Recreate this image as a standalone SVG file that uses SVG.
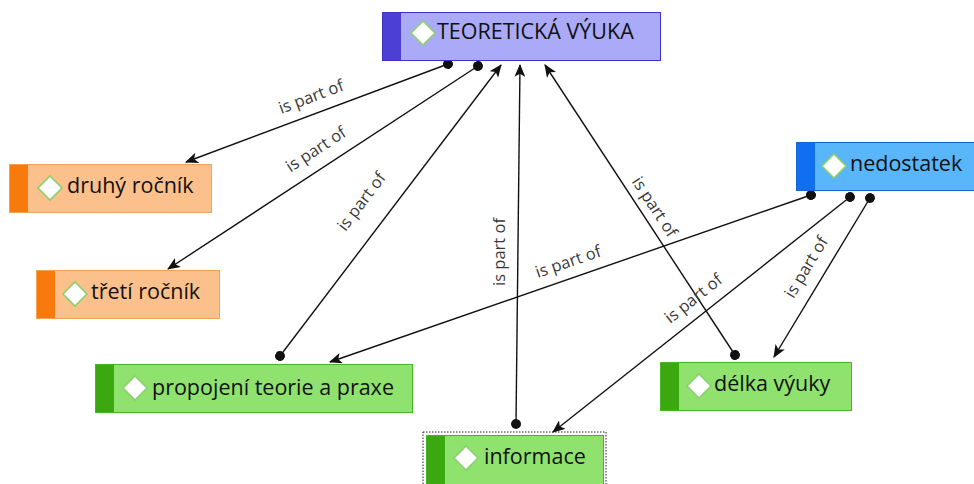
<svg xmlns="http://www.w3.org/2000/svg" width="974" height="484" viewBox="0 0 974 484">
<defs>
<style>
.nt{font-family:"Open Sans","Liberation Sans",sans-serif;font-size:21.5px;fill:#111}
.lb{font-family:"Open Sans","Liberation Sans",sans-serif;font-size:16.5px;fill:#3a3a3a}
.ln{stroke:#111;stroke-width:1.4;fill:none}
.dm{fill:#fff;stroke:#8ccf6e;stroke-width:1.6}
.pur{fill:#aaaaf8;stroke:#3d33c4}
.purs{fill:#4b3fd6}
.org{fill:#fcc08c;stroke:#f3a154}
.orgs{fill:#f97a0c}
.grn{fill:#8fe26e;stroke:#48b526}
.grns{fill:#3aa80e}
.blu{fill:#5ab6fb;stroke:#1565d0}
.blus{fill:#0f6ff0}
</style>
<marker id="ar" viewBox="0 0 12 10" refX="11" refY="5" markerWidth="13" markerHeight="11" markerUnits="userSpaceOnUse" orient="auto">
<path d="M0,0 L12,5 L0,10 L3,5 Z" fill="#111"/>
</marker>
<marker id="dt" viewBox="0 0 10 10" refX="5" refY="5" markerWidth="10" markerHeight="10" markerUnits="userSpaceOnUse" orient="auto">
<circle cx="5" cy="5" r="5" fill="#111"/>
</marker>
</defs>

<g id="connectors">
<line class="ln" x1="448" y1="64" x2="186" y2="162" marker-start="url(#dt)" marker-end="url(#ar)"/>
<line class="ln" x1="478" y1="66" x2="168" y2="269" marker-start="url(#dt)" marker-end="url(#ar)"/>
<line class="ln" x1="280" y1="356" x2="501" y2="65" marker-start="url(#dt)" marker-end="url(#ar)"/>
<line class="ln" x1="516" y1="424" x2="520" y2="65" marker-start="url(#dt)" marker-end="url(#ar)"/>
<line class="ln" x1="735" y1="355" x2="545" y2="65" marker-start="url(#dt)" marker-end="url(#ar)"/>
<line class="ln" x1="811" y1="195" x2="330" y2="362" marker-start="url(#dt)" marker-end="url(#ar)"/>
<line class="ln" x1="850" y1="197" x2="553" y2="432" marker-start="url(#dt)" marker-end="url(#ar)"/>
<line class="ln" x1="870" y1="198" x2="774" y2="357" marker-start="url(#dt)" marker-end="url(#ar)"/>
<text class="lb" text-anchor="middle" transform="translate(313,102) rotate(-20.5)">is part of</text>
<text class="lb" text-anchor="middle" transform="translate(319,154) rotate(-33.3)">is part of</text>
<text class="lb" text-anchor="middle" transform="translate(366,205) rotate(-52.8)">is part of</text>
<text class="lb" text-anchor="middle" transform="translate(505,252) rotate(-90)">is part of</text>
<text class="lb" text-anchor="middle" transform="translate(650,210) rotate(56.7)">is part of</text>
<text class="lb" text-anchor="middle" transform="translate(570,267) rotate(-19)">is part of</text>
<text class="lb" text-anchor="middle" transform="translate(697,303) rotate(-38.4)">is part of</text>
<text class="lb" text-anchor="middle" transform="translate(811,270) rotate(-59)">is part of</text>
</g>

<g id="teoreticka-vyuka">
<rect class="pur" x="382.5" y="12.5" width="278" height="48"/>
<rect class="purs" x="383" y="13" width="18" height="47"/>
<path class="dm" d="M423,21 L435,33 L423,45 L411,33 Z"/>
<text class="nt" x="437" y="39">TEORETICKÁ VÝUKA</text>
</g>

<g id="druhy-rocnik">
<rect class="org" x="9.5" y="164.5" width="202" height="48"/>
<rect class="orgs" x="10" y="165" width="18" height="47"/>
<path class="dm" d="M50,176 L62,188 L50,200 L38,188 Z"/>
<text class="nt" x="67" y="193">druhý ročník</text>
</g>

<g id="treti-rocnik">
<rect class="org" x="36.5" y="270.5" width="183" height="48"/>
<rect class="orgs" x="37" y="271" width="18" height="47"/>
<path class="dm" d="M75,282 L87,294 L75,306 L63,294 Z"/>
<text class="nt" x="91" y="299">třetí ročník</text>
</g>

<g id="nedostatek">
<rect class="blu" x="796.5" y="142.5" width="180" height="48"/>
<rect class="blus" x="797" y="143" width="18" height="47"/>
<path class="dm" d="M834,154 L846,166 L834,178 L822,166 Z"/>
<text class="nt" x="850" y="171">nedostatek</text>
</g>

<g id="propojeni">
<rect class="grn" x="95.5" y="364.5" width="317" height="48"/>
<rect class="grns" x="96" y="365" width="18" height="47"/>
<path class="dm" d="M135,376 L147,388 L135,400 L123,388 Z"/>
<text class="nt" x="152" y="395">propojení teorie a praxe</text>
</g>

<g id="informace">
<rect x="423" y="432" width="183" height="56" fill="none" stroke="#222" stroke-width="1" stroke-dasharray="1.5,1.5"/>
<rect class="grn" x="426.5" y="435.5" width="177" height="50"/>
<rect class="grns" x="427" y="436" width="18" height="49"/>
<path class="dm" d="M466,446 L478,458 L466,470 L454,458 Z"/>
<text class="nt" x="484" y="464">informace</text>
</g>

<g id="delka-vyuky">
<rect class="grn" x="660.5" y="362.5" width="191" height="48"/>
<rect class="grns" x="661" y="363" width="18" height="47"/>
<path class="dm" d="M699,374 L711,386 L699,398 L687,386 Z"/>
<text class="nt" x="714" y="391">délka výuky</text>
</g>
</svg>
